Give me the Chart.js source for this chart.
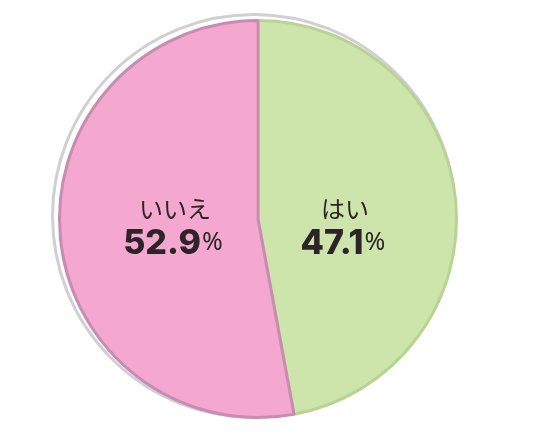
<!DOCTYPE html>
<html><head><meta charset="utf-8">
<script src="https://cdn.jsdelivr.net/npm/chart.js@4"></script>
<style>html,body{margin:0;padding:0;background:#fff;}#c{display:block;}</style>
</head><body>
<canvas id="c" width="553" height="448"></canvas>
<script>
const categories = ['はい', 'いいえ'];
const values = [47.1, 52.9];
const valueLabels = ['47.1', '52.9'];
const colors = ['#cde4aa', '#f4a8cf'];
const borderColors = ['#b9d395', '#c98cb1'];

const ringPlugin = {
  id: 'ring',
  beforeDatasetsDraw(chart) {
    const arc = chart.getDatasetMeta(0).data[0];
    const ctx = chart.ctx;
    ctx.save();
    ctx.strokeStyle = '#cfcfd4';
    ctx.lineWidth = 3;
    ctx.beginPath();
    ctx.arc(arc.x - 4, arc.y - 3, arc.outerRadius + 3, 0, Math.PI * 2);
    ctx.stroke();
    ctx.restore();
  }
};

const labelPlugin = {
  id: 'labels',
  afterDatasetsDraw(chart) {
    const ctx = chart.ctx;
    const meta = chart.getDatasetMeta(0);
    meta.data.forEach((arc, i) => {
      const mid = (arc.startAngle + arc.endAngle) / 2;
      const r = arc.outerRadius * 0.43;
      const x = arc.x + Math.cos(mid) * r;
      const y = arc.y;
      ctx.save();
      ctx.fillStyle = '#2c2428';
      ctx.textAlign = 'center';
      ctx.textBaseline = 'middle';
      ctx.font = '400 24px "Noto Sans CJK JP"';
      ctx.fillText(categories[i], x + 2, y - 10);
      const numFont = '800 34px Inter';
      const pFont = '400 25px "Noto Sans"';
      const num = valueLabels[i];
      ctx.textAlign = 'left';
      ctx.font = numFont;
      const nw = ctx.measureText(num).width;
      ctx.font = pFont;
      const pw = ctx.measureText('%').width;
      const sx = x - (nw + pw + 1) / 2;
      ctx.font = numFont;
      ctx.fillText(num, sx, y + 25);
      ctx.font = pFont;
      ctx.fillText('%', sx + nw + 1, y + 24);
      ctx.restore();
    });
  }
};

new Chart(document.getElementById('c'), {
  type: 'pie',
  data: {
    labels: categories,
    datasets: [{
      data: values,
      backgroundColor: colors,
      borderColor: borderColors,
      borderWidth: 3,
      hoverOffset: 0
    }]
  },
  options: {
    responsive: false,
    animation: false,
    layout: { padding: { top: 19, bottom: 29, left: 58, right: 95 } },
    plugins: { legend: { display: false }, tooltip: { enabled: false } }
  },
  plugins: [ringPlugin, labelPlugin]
});
</script>
</body></html>
